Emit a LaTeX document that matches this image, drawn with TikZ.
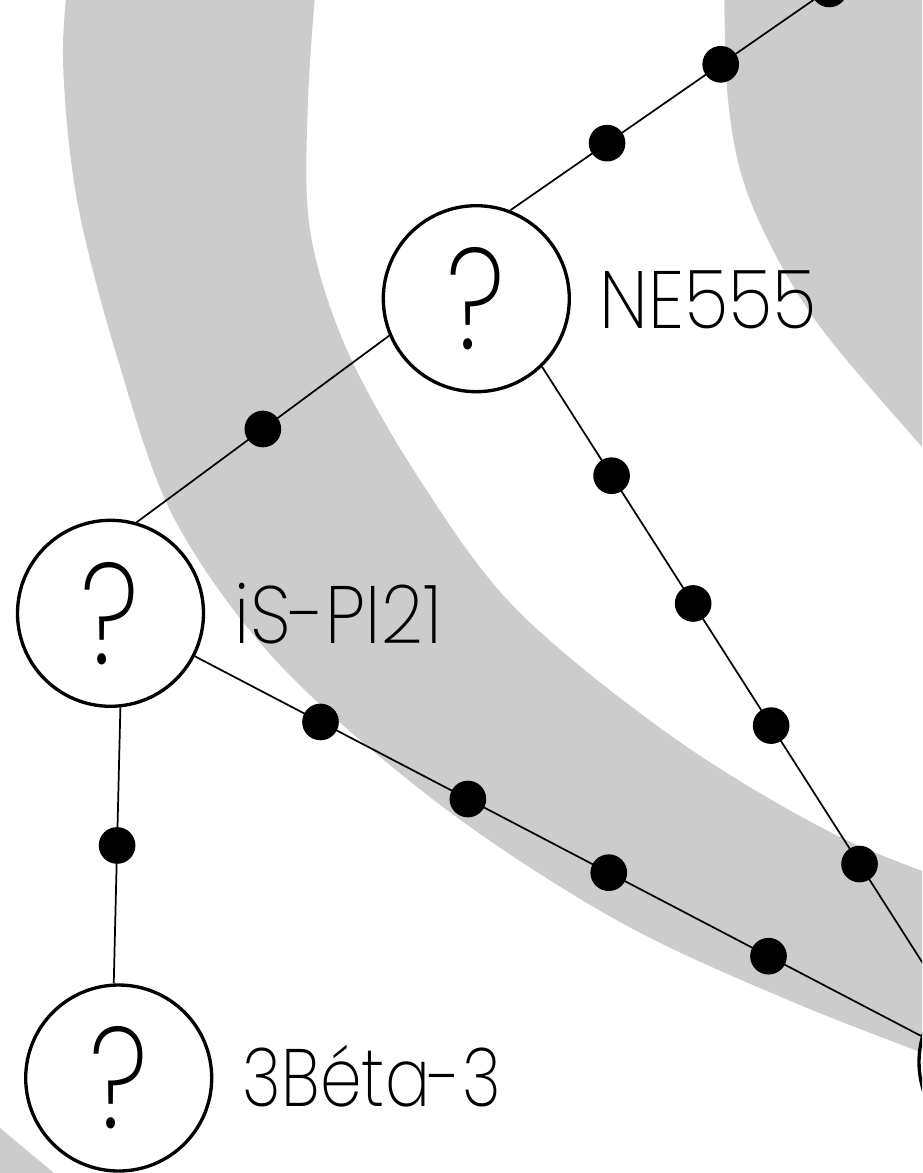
\documentclass[tikz,border=0pt]{standalone}
\usepackage{fontspec}
\setmainfont{Poppins ExtraLight}[FakeStretch=0.9]
\newfontfamily\qfont{Poppins ExtraLight}[FakeStretch=0.8]
\newfontfamily\narrowfont{Poppins ExtraLight}[FakeStretch=0.82]
\usetikzlibrary{calc}
\definecolor{bandgray}{RGB}{204,204,204}
\begin{document}
\begin{tikzpicture}[x=0.75pt,y=-0.75pt,
  qnode/.style={circle, draw=black, line width=2.5pt, fill=white, minimum size=139.5pt, inner sep=0pt, font=\qfont\fontsize{108}{108}\selectfont},
  lbl/.style={anchor=base west, inner sep=0pt, font=\fontsize{61}{61}\selectfont},
  edge/.style={draw=black, line width=1.3pt},
  dotn/.style={circle, fill=black, minimum size=27.5pt, inner sep=0pt}]
\useasboundingbox (0,0) rectangle (922,1173);
\clip (0,0) rectangle (922,1173);
% background bands
\fill[bandgray] plot[smooth, tension=0.55] coordinates {(70,-40) (63,60) (77,200) (118,360) (175,520) (280,665) (443,807) (620,922) (800,1005) (990,1078)}
  -- plot[smooth, tension=0.55] coordinates {(990,895) (840,837) (677,740) (517,610) (420,480) (347,350) (310,230) (308,100) (318,-40)} -- cycle;
\fill[bandgray] plot[smooth, tension=0.55] coordinates {(724,-40) (728,100) (750,200) (813,317) (922,447) (970,500)} -- (970,-40) -- cycle;
\fill[bandgray] (-10,1120) -- (0,1128) -- (60,1178) -- (-10,1178) -- cycle;
% nodes
\node[qnode] (NE) at (476.3,298.7) {?};
\node[qnode] (IS) at (110.5,613.3) {?};
\node[qnode] (BE) at (118.7,1078) {?};
\node[qnode] (BR) at (1012,1062) {};
\coordinate (TRend) at (1070,-178);
% connectors
\draw[edge] (IS.74.2) -- (NE.-157) node[dotn,pos=0.5] (d1) {};
\draw[edge] (IS.-84.3) -- (BE.93.8) node[dotn,pos=0.5] (d2) {};
\draw[edge] (IS.-27) -- (BR.164)
  node[dotn,pos=0.173] (d3) {} node[dotn,pos=0.376] (d4) {}
  node[dotn,pos=0.570] (d5) {} node[dotn,pos=0.790] (d6) {};
\draw[edge] (NE.-46.8) -- (BR.136.6)
  node[dotn,pos=0.173] (d7) {} node[dotn,pos=0.376] (d8) {}
  node[dotn,pos=0.570] (d9) {} node[dotn,pos=0.790] (d10) {};
\draw[edge] (NE.69.6) -- (TRend)
  node[dotn,pos=0.173] (d11) {} node[dotn,pos=0.376] (d12) {}
  node[dotn,pos=0.570] (d13) {} node[dotn,pos=0.790] (d14) {};
% labels
\node[lbl] (NEl) at ($(NE)+(123,29.6)$) {NE555};
\node[lbl] (ISl) at ($(IS)+(124,30)$) {iS-PI21};
\node[lbl, font=\narrowfont\fontsize{61}{61}\selectfont] (BEl) at ($(BE)+(124,28.7)$) {3Béta-3};
\end{tikzpicture}
\end{document}
